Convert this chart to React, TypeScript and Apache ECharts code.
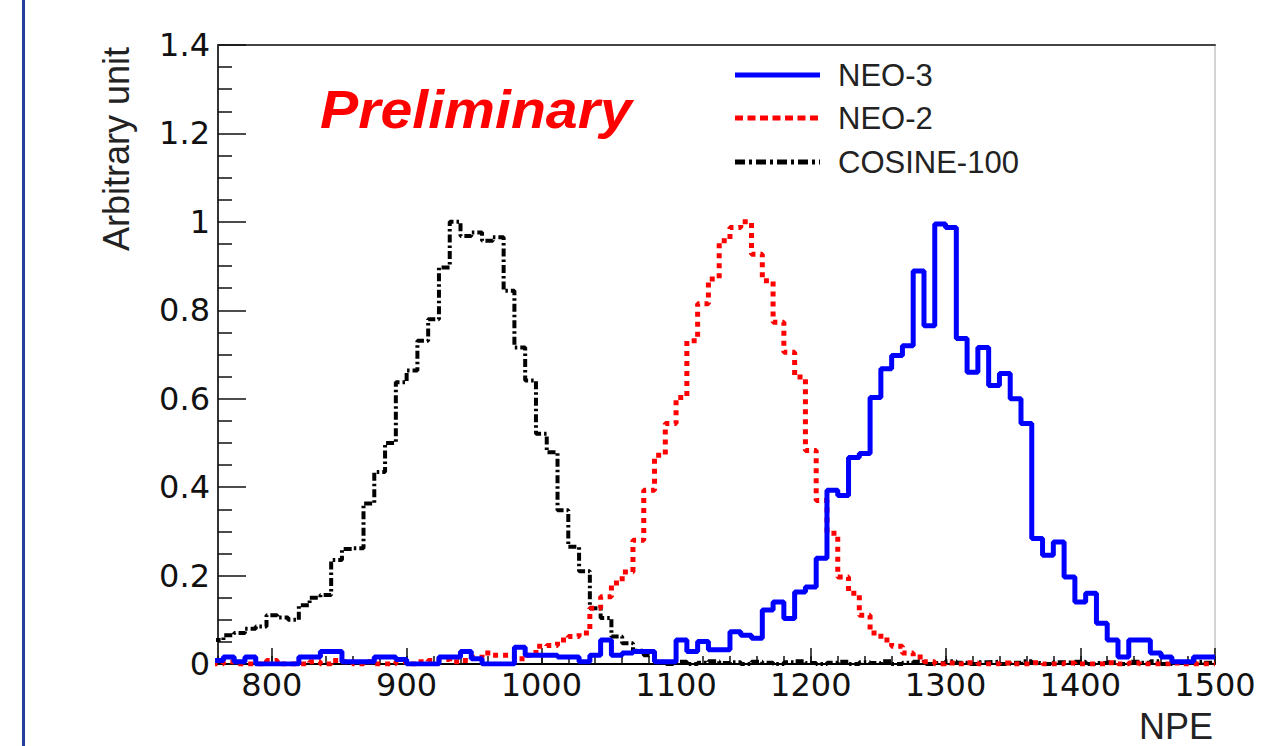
import React, { useEffect, useRef } from "react";
import * as echarts from "echarts";

// Histogram binning (categories along x)
const BIN_START = 756;
const BIN_WIDTH = 8;
const X_MIN = 760;
const X_MAX = 1500;
const xMajorTicks = [800, 900, 1000, 1100, 1200, 1300, 1400, 1500];

const seriesNames = ["NEO-3", "NEO-2", "COSINE-100"];

// NEO-3 (blue, solid)
const neo3 = [
  0.008, 0.016, 0.005, 0.016, 0.0, 0.0, 0.0, 0.0, 0.016, 0.016,
  0.028, 0.028, 0.005, 0.005, 0.005, 0.016, 0.016, 0.01, 0.0, 0.0,
  0.0, 0.016, 0.016, 0.028, 0.012, 0.0, 0.0, 0.0, 0.038, 0.02,
  0.02, 0.02, 0.016, 0.016, 0.005, 0.02, 0.054, 0.02, 0.025, 0.028,
  0.028, 0.005, 0.005, 0.054, 0.028, 0.051, 0.032, 0.032, 0.073, 0.065,
  0.058, 0.122, 0.14, 0.103, 0.163, 0.174, 0.239, 0.393, 0.381, 0.467,
  0.476, 0.603, 0.668, 0.698, 0.72, 0.889, 0.765, 0.995, 0.987, 0.736,
  0.66, 0.716, 0.63, 0.657, 0.6, 0.544, 0.284, 0.246, 0.276, 0.197,
  0.14, 0.16, 0.092, 0.054, 0.016, 0.054, 0.054, 0.025, 0.016, 0.005,
  0.005, 0.016, 0.016,
];

// NEO-2 (red, dotted)
const neo2 = [
  0.0, 0.005, 0.0, 0.0, 0.0, 0.008, 0.0, 0.0, 0.0, 0.005,
  0.0, 0.008, 0.005, 0.0, 0.005, 0.0, 0.0, 0.005, 0.0, 0.005,
  0.008, 0.01, 0.005, 0.008, 0.015, 0.025, 0.02, 0.02, 0.012, 0.02,
  0.04, 0.042, 0.054, 0.062, 0.07, 0.126, 0.152, 0.183, 0.208, 0.28,
  0.393, 0.472, 0.544, 0.603, 0.731, 0.815, 0.871, 0.957, 0.987, 1.0,
  0.927, 0.867, 0.773, 0.705, 0.649, 0.483, 0.37, 0.296, 0.197, 0.16,
  0.11, 0.07, 0.054, 0.04, 0.025, 0.016, 0.005, 0.0, 0.002, 0.0,
  0.003, 0.0, 0.0, 0.002, 0.0, 0.0, 0.003, 0.0, 0.0, 0.002,
  0.0, 0.0, 0.0, 0.003, 0.0, 0.002, 0.0, 0.0, 0.0, 0.002,
  0.0, 0.0, 0.0,
];

// COSINE-100 (black, dash-dot)
const cosine100 = [
  0.054, 0.065, 0.07, 0.08, 0.085, 0.11, 0.105, 0.1, 0.133, 0.15,
  0.156, 0.235, 0.26, 0.262, 0.363, 0.434, 0.5, 0.637, 0.664, 0.731,
  0.78, 0.897, 1.0, 0.968, 0.976, 0.957, 0.965, 0.844, 0.716, 0.641,
  0.521, 0.479, 0.348, 0.265, 0.21, 0.126, 0.104, 0.062, 0.047, 0.03,
  0.02, 0.005, 0.0, 0.005, 0.0, 0.003, 0.006, 0.002, 0.004, 0.0,
  0.005, 0.003, 0.0, 0.004, 0.006, 0.002, 0.0, 0.003, 0.005, 0.0,
  0.004, 0.002, 0.006, 0.0, 0.003, 0.005, 0.0, 0.002, 0.006, 0.003,
  0.0, 0.004, 0.005, 0.0, 0.003, 0.006, 0.002, 0.0, 0.004, 0.003,
  0.005, 0.0, 0.002, 0.004, 0.0, 0.005, 0.003, 0.006, 0.0, 0.004,
  0.002, 0.005, 0.003,
];

function toSteps(vals: number[]): number[][] {
  const pts = vals.map((v, i) => [BIN_START + i * BIN_WIDTH, v]);
  pts.push([X_MAX, vals[vals.length - 1]]);
  return pts;
}

const TICK_FONT = "DejaVu Sans";
const TEXT_FONT = "Liberation Sans";

export default function App() {
  const ref = useRef<HTMLDivElement>(null);

  useEffect(() => {
    if (!ref.current) return;
    const chart = echarts.init(ref.current, null, { renderer: "svg" });
    const axisTickStyle = { color: "#111", width: 1.5 };
    chart.setOption({
      animation: false,
      backgroundColor: "#ffffff",
      grid: {
        left: 218,
        right: 52,
        top: 45,
        bottom: 82,
        containLabel: false,
        outerBoundsMode: "none",
      },
      xAxis: [
        {
          type: "value",
          min: X_MIN,
          max: X_MAX,
          interval: 20,
          position: "bottom",
          axisLine: { show: true, onZero: false, lineStyle: { color: "#000", width: 2 } },
          axisTick: { show: true, inside: true, length: 8, lineStyle: axisTickStyle },
          axisLabel: {
            formatter: (v: number) => (v % 100 === 0 ? String(v) : ""),
            fontFamily: TICK_FONT,
            fontSize: 32,
            color: "#111",
            margin: 5,
          },
          splitLine: { show: false },
        },
        {
          type: "value",
          min: X_MIN,
          max: X_MAX,
          position: "bottom",
          axisLine: { show: false },
          axisTick: {
            show: true,
            inside: true,
            length: 16,
            customValues: xMajorTicks,
            lineStyle: axisTickStyle,
          },
          axisLabel: { show: false },
          splitLine: { show: false },
        },
        {
          type: "value",
          min: X_MIN,
          max: X_MAX,
          position: "top",
          axisLine: { show: true, onZero: false, lineStyle: { color: "#444", width: 2 } },
          axisTick: { show: false },
          axisLabel: { show: false },
          splitLine: { show: false },
        },
      ],
      yAxis: [
        {
          type: "value",
          min: 0,
          max: 1.4,
          interval: 0.2,
          position: "left",
          axisLine: { show: true, onZero: false, lineStyle: { color: "#333", width: 2 } },
          axisTick: { show: true, inside: true, length: 28, lineStyle: axisTickStyle },
          minorTick: { show: true, splitNumber: 4, length: 14, lineStyle: axisTickStyle },
          axisLabel: {
            fontFamily: TICK_FONT,
            fontSize: 32,
            color: "#111",
            margin: 8,
          },
          splitLine: { show: false },
        },
        {
          type: "value",
          min: 0,
          max: 1.4,
          position: "right",
          axisLine: { show: true, onZero: false, lineStyle: { color: "#d4d4d4", width: 2 } },
          axisTick: { show: false },
          axisLabel: { show: false },
          splitLine: { show: false },
        },
      ],
      series: [
        {
          name: seriesNames[2],
          type: "line",
          step: "end",
          symbol: "none",
          silent: true,
          clip: true,
          xAxisIndex: 0,
          yAxisIndex: 0,
          data: toSteps(cosine100),
          lineStyle: { color: "#000", width: 4, type: [8, 3, 2.5, 3], cap: "butt" },
        },
        {
          name: seriesNames[1],
          type: "line",
          step: "end",
          symbol: "none",
          silent: true,
          clip: true,
          xAxisIndex: 0,
          yAxisIndex: 0,
          data: toSteps(neo2),
          lineStyle: { color: "#ff0000", width: 5, type: [5, 5], cap: "butt" },
        },
        {
          name: seriesNames[0],
          type: "line",
          step: "end",
          symbol: "none",
          silent: true,
          clip: true,
          xAxisIndex: 0,
          yAxisIndex: 0,
          data: toSteps(neo3),
          lineStyle: { color: "#0000ff", width: 5, type: "solid" },
        },
      ],
      graphic: [
        {
          type: "rect",
          shape: { x: 22, y: 0, width: 3, height: 746 },
          style: { fill: "#22409a" },
          silent: true,
        },
        {
          type: "line",
          shape: { x1: 735, y1: 75, x2: 820, y2: 75 },
          style: { stroke: "#0000ff", lineWidth: 5 },
          silent: true,
        },
        {
          type: "line",
          shape: { x1: 735, y1: 118, x2: 820, y2: 118 },
          style: { stroke: "#ff0000", lineWidth: 5, lineDash: [8, 4.5] },
          silent: true,
        },
        {
          type: "line",
          shape: { x1: 735, y1: 162, x2: 820, y2: 162 },
          style: { stroke: "#000", lineWidth: 5, lineDash: [10, 4, 3, 4] },
          silent: true,
        },
        {
          type: "text",
          x: 838,
          y: 75,
          style: {
            text: seriesNames[0],
            font: `31px "${TEXT_FONT}"`,
            fill: "#222",
            align: "left",
            verticalAlign: "middle",
          },
          silent: true,
        },
        {
          type: "text",
          x: 838,
          y: 118,
          style: {
            text: seriesNames[1],
            font: `31px "${TEXT_FONT}"`,
            fill: "#222",
            align: "left",
            verticalAlign: "middle",
          },
          silent: true,
        },
        {
          type: "text",
          x: 838,
          y: 162,
          style: {
            text: seriesNames[2],
            font: `31px "${TEXT_FONT}"`,
            fill: "#222",
            align: "left",
            verticalAlign: "middle",
          },
          silent: true,
        },
        {
          type: "text",
          x: 320,
          y: 110,
          scaleX: 1.08,
          style: {
            text: "Preliminary",
            font: `italic 900 53px "${TEXT_FONT}"`,
            fill: "#ff0000",
            align: "left",
            verticalAlign: "middle",
          },
          silent: true,
        },
        {
          type: "text",
          x: 116,
          y: 47,
          rotation: Math.PI / 2,
          style: {
            text: "Arbitrary unit",
            font: `36px "${TEXT_FONT}"`,
            fill: "#222",
            align: "right",
            verticalAlign: "middle",
          },
          silent: true,
        },
        {
          type: "text",
          x: 1213,
          y: 726,
          style: {
            text: "NPE",
            font: `36px "${TEXT_FONT}"`,
            fill: "#222",
            align: "right",
            verticalAlign: "middle",
          },
          silent: true,
        },
      ],
    });
    return () => {
      chart.dispose();
    };
  }, []);

  return (
    <div
      ref={ref}
      style={{ position: "fixed", left: 0, top: 0, width: 1267, height: 746, background: "#fff" }}
    />
  );
}
